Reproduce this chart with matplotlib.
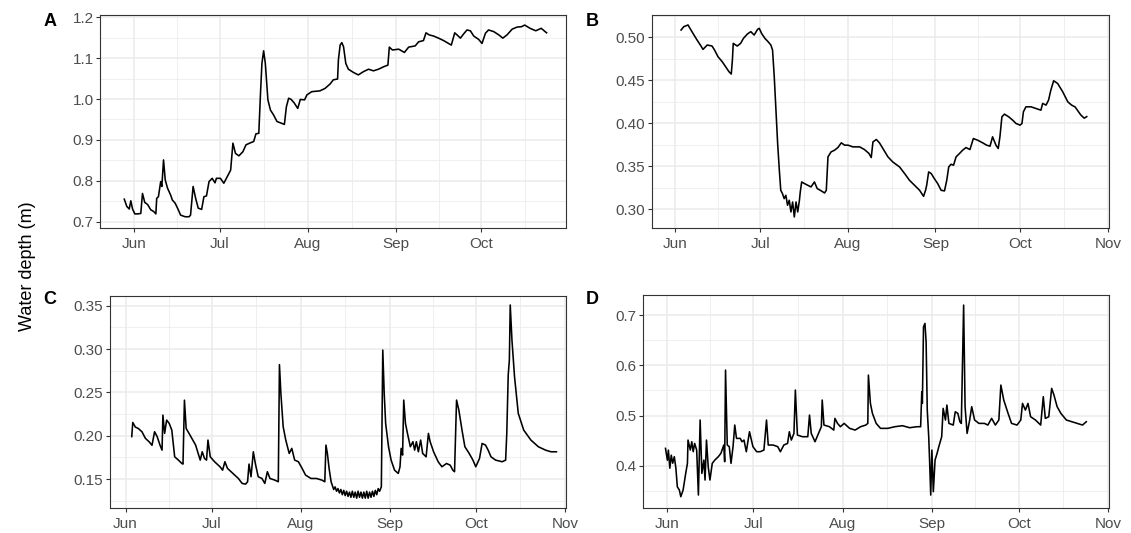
import numpy as np
import pandas as pd
import matplotlib
matplotlib.use('Agg')
import matplotlib.pyplot as plt
import matplotlib.dates as mdates
from matplotlib.ticker import FixedLocator, FormatStrFormatter

plt.rcParams['font.family'] = ['Liberation Sans', 'DejaVu Sans']

START = pd.Timestamp('2021-06-01')

# ---------------- data (days since 1 June, water depth in m) ----------------
a_days = [-3.5, -2.6, -1.75, -1.2, -0.6, 0.2, 1.2, 2.3, 2.9, 3.7, 4.7, 5.8, 6.8, 7.6, 7.9, 8.5, 9.3, 9.7,
          10.3, 10.9, 11.7, 12.8, 13.4, 14.4, 15.5, 16.3, 17.9, 19.3, 19.8, 20.7, 21.6, 22.5, 23.7, 24.5,
          25.4, 26.3, 27.4, 28.4, 28.9, 30.3, 31.5, 32.7, 33.9, 34.7, 35.6, 36.8, 38.2, 39.3, 40.9, 42.0,
          42.8, 43.8, 44.4, 44.9, 45.5, 46.1, 47.0, 47.9, 49.0, 50.2, 51.7, 52.8, 53.5, 54.3, 55.2, 56.3,
          57.5, 58.4, 59.9, 60.7, 62.4, 65.3, 67.1, 68.9, 70.0, 71.5, 71.8, 72.4, 73.0, 73.6, 74.4, 75.3,
          77.1, 78.8, 80.6, 82.4, 84.1, 85.9, 87.7, 89.2, 89.7, 90.8, 93.0, 95.0, 96.5, 98.8, 100.0, 101.7,
          102.6, 103.7, 105.3, 107.0, 108.8, 110.0, 111.5, 112.7, 113.5, 114.7, 115.8, 117.0, 118.2, 119.4,
          121.1, 122.3, 123.5, 124.6, 126.4, 128.2, 129.6, 131.1, 132.9, 134.6, 136.2, 137.3, 139.2, 141.2,
          143.1, 145.0]
a_depth = [0.755, 0.737, 0.731, 0.751, 0.731, 0.719, 0.719, 0.720, 0.769, 0.747, 0.742, 0.729, 0.725, 0.719,
           0.757, 0.761, 0.798, 0.786, 0.851, 0.802, 0.782, 0.765, 0.753, 0.745, 0.729, 0.716, 0.712, 0.712,
           0.716, 0.786, 0.757, 0.733, 0.730, 0.761, 0.763, 0.798, 0.806, 0.795, 0.806, 0.806, 0.794, 0.810,
           0.826, 0.892, 0.867, 0.861, 0.871, 0.888, 0.893, 0.896, 0.915, 0.916, 1.014, 1.087, 1.118, 1.087,
           0.998, 0.973, 0.961, 0.945, 0.941, 0.938, 0.981, 1.002, 0.999, 0.990, 0.977, 0.999, 0.998, 1.010,
           1.018, 1.020, 1.026, 1.037, 1.047, 1.049, 1.096, 1.132, 1.138, 1.128, 1.087, 1.073, 1.065, 1.059,
           1.067, 1.073, 1.069, 1.073, 1.079, 1.083, 1.127, 1.120, 1.122, 1.114, 1.127, 1.130, 1.140, 1.143,
           1.162, 1.157, 1.154, 1.149, 1.143, 1.138, 1.132, 1.162, 1.157, 1.149, 1.159, 1.169, 1.167, 1.154,
           1.146, 1.136, 1.161, 1.169, 1.165, 1.157, 1.149, 1.157, 1.171, 1.176, 1.177, 1.181, 1.173, 1.167,
           1.173, 1.162]

b_days = [2.05, 3.0, 4.5, 5.9, 7.7, 9.1, 9.8, 11.3, 13.0, 13.9, 15.1, 16.6, 17.8, 19.0, 19.8, 20.2, 20.5,
          21.9, 23.1, 24.1, 25.5, 26.7, 27.9, 29.1, 29.7, 30.5, 31.7, 32.8, 33.8, 34.4, 35.0, 35.6, 36.2,
          36.8, 37.3, 37.9, 38.5, 39.1, 39.7, 40.3, 40.9, 41.5, 42.1, 42.7, 43.3, 43.9, 44.2, 44.7, 45.7,
          46.8, 48.0, 49.2, 50.2, 51.3, 52.8, 53.4, 54.0, 55.1, 56.3, 57.5, 58.7, 59.9, 61.1, 62.8, 63.4,
          65.2, 66.9, 68.5, 69.3, 69.9, 71.1, 72.2, 73.4, 75.2, 76.9, 79.3, 81.1, 82.8, 84.6, 86.4, 87.8,
          88.5, 88.9, 89.6, 90.5, 91.6, 92.8, 94.0, 95.2, 96.0, 96.7, 97.5, 98.4, 99.3, 100.5, 101.6, 102.8,
          104.2, 105.4, 106.9, 108.7, 110.1, 111.3, 112.2, 113.4, 114.2, 114.8, 115.5, 116.4, 117.9, 119.3,
          120.5, 121.9, 122.6, 123.1, 124.0, 125.8, 127.5, 129.3, 129.9, 131.1, 132.0, 132.8, 133.8, 135.2,
          137.0, 138.8, 140.1, 141.4, 143.4, 144.6, 145.5]
b_depth = [0.5085, 0.5124, 0.5144, 0.5066, 0.4969, 0.4899, 0.4860, 0.4911, 0.4899, 0.4852, 0.4775, 0.4717,
           0.4658, 0.4600, 0.4573, 0.4736, 0.4930, 0.4899, 0.4930, 0.4988, 0.5039, 0.5066, 0.5027, 0.5093,
           0.5105, 0.5047, 0.4988, 0.4950, 0.4911, 0.4852, 0.4542, 0.4153, 0.3765, 0.3454, 0.3221, 0.3183,
           0.3124, 0.3163, 0.3047, 0.3105, 0.2969, 0.3085, 0.2911, 0.3085, 0.2969, 0.3105, 0.3202, 0.3318,
           0.3299, 0.3280, 0.3260, 0.3318, 0.3241, 0.3221, 0.3190, 0.3221, 0.3610, 0.3668, 0.3687, 0.3718,
           0.3773, 0.3746, 0.3746, 0.3726, 0.3726, 0.3726, 0.3695, 0.3649, 0.3602, 0.3784, 0.3812, 0.3773,
           0.3707, 0.3610, 0.3551, 0.3493, 0.3416, 0.3338, 0.3280, 0.3221, 0.3151, 0.3221, 0.3280, 0.3435,
           0.3416, 0.3357, 0.3299, 0.3221, 0.3214, 0.3338, 0.3493, 0.3524, 0.3513, 0.3610, 0.3649, 0.3687,
           0.3718, 0.3695, 0.3823, 0.3804, 0.3773, 0.3746, 0.3734, 0.3843, 0.3746, 0.3707, 0.3843, 0.4076,
           0.4107, 0.4076, 0.4037, 0.3998, 0.3979, 0.3998, 0.4134, 0.4192, 0.4192, 0.4173, 0.4153, 0.4231,
           0.4212, 0.4270, 0.4386, 0.4495, 0.4464, 0.4367, 0.4250, 0.4213, 0.4190, 0.4097, 0.4060, 0.4078]

c_days = [2.15, 2.5, 3.4, 4.4, 5.7, 6.9, 8.2, 9.2, 10.1, 11.0, 12.0, 12.7, 13.0, 13.6, 14.3, 15.2, 16.1,
          17.1, 18.4, 19.6, 20.0, 20.5, 21.1, 22.1, 23.4, 24.4, 25.3, 26.0, 26.7, 27.5, 28.2, 28.7, 29.5,
          31.0, 32.9, 33.8, 34.6, 35.5, 37.4, 39.3, 40.6, 41.8, 42.5, 43.0, 43.7, 44.5, 45.2, 46.2, 47.5,
          48.5, 49.4, 50.3, 52.0, 53.2, 53.6, 54.1, 54.9, 55.8, 57.0, 57.9, 58.9, 60.2, 61.5, 62.7, 64.6,
          66.5, 68.4, 69.4, 69.8, 70.3, 70.9, 71.6, 72.0, 72.5, 73.0, 73.5, 74.0, 74.5, 75.0, 75.5, 76.0,
          76.5, 77.0, 77.5, 78.0, 78.5, 79.0, 79.5, 80.0, 80.5, 81.0, 81.5, 82.0, 82.5, 83.0, 83.5, 84.0,
          84.5, 85.0, 85.5, 86.0, 86.5, 87.0, 87.5, 88.0, 88.5, 89.1, 89.6, 90.1, 90.6, 91.6, 92.5, 93.7,
          95.0, 95.6, 96.0, 96.5, 96.9, 97.5, 98.2, 99.2, 100.1, 100.7, 101.3, 102.0, 102.8, 103.5, 104.7,
          105.5, 106.1, 107.3, 108.9, 110.2, 111.8, 113.1, 114.0, 114.6, 115.3, 116.1, 117.2, 118.2, 119.7,
          121.0, 122.0, 123.3, 124.2, 125.4, 126.3, 127.3, 128.9, 131.2, 132.4, 132.8, 133.3, 133.7, 134.0,
          134.6, 135.5, 136.8, 138.7, 141.2, 143.8, 146.3, 148.2, 150.1]
c_depth = [0.199, 0.2153, 0.210, 0.2084, 0.2046, 0.197, 0.193, 0.189, 0.2046, 0.199, 0.189, 0.1834, 0.2238,
           0.2027, 0.218, 0.2142, 0.2065, 0.1757, 0.1719, 0.168, 0.1673, 0.241, 0.2084, 0.2027, 0.195, 0.1892,
           0.1796, 0.1719, 0.1815, 0.1738, 0.1719, 0.195, 0.1757, 0.170, 0.1642, 0.1603, 0.170, 0.1623,
           0.1565, 0.1507, 0.145, 0.1442, 0.1469, 0.1673, 0.1527, 0.1815, 0.168, 0.1527, 0.1507, 0.145,
           0.1585, 0.1507, 0.1488, 0.1469, 0.2820, 0.2488, 0.2104, 0.195, 0.1796, 0.1854, 0.1719, 0.170,
           0.1623, 0.1546, 0.1507, 0.1507, 0.1488, 0.1469, 0.1892, 0.1796, 0.1623, 0.1469, 0.143, 0.138,
           0.141, 0.136, 0.139, 0.134, 0.138, 0.132, 0.137, 0.131, 0.136, 0.130, 0.135, 0.129, 0.136, 0.129,
           0.135, 0.128, 0.136, 0.129, 0.135, 0.128, 0.135, 0.128, 0.136, 0.128, 0.135, 0.129, 0.136, 0.130,
           0.137, 0.132, 0.139, 0.136, 0.1411, 0.2988, 0.2488, 0.2142, 0.1873, 0.1719, 0.1603, 0.1565, 0.1642,
           0.1854, 0.1777, 0.2411, 0.2142, 0.2027, 0.1873, 0.1931, 0.1834, 0.1931, 0.1815, 0.195, 0.1796,
           0.1757, 0.2027, 0.1931, 0.1815, 0.170, 0.1642, 0.168, 0.166, 0.1603, 0.1585, 0.2411, 0.2296,
           0.2065, 0.1873, 0.1796, 0.1719, 0.1642, 0.1738, 0.1911, 0.1892, 0.1834, 0.1757, 0.1719, 0.170,
           0.1719, 0.2027, 0.270, 0.2873, 0.3508, 0.3104, 0.268, 0.2258, 0.2065, 0.195, 0.1873, 0.1834,
           0.1815, 0.1815]

d_days = [-0.4, 0.25, 0.6, 1.1, 1.6, 2.1, 2.65, 3.2, 3.7, 4.4, 4.9, 5.7, 6.6, 7.2, 7.4, 8.2, 8.7, 9.2, 9.7,
          10.4, 11.0, 11.6, 12.2, 12.9, 13.3, 13.8, 14.4, 15.0, 15.8, 16.7, 17.9, 18.8, 19.8, 20.1, 20.4,
          21.0, 21.7, 22.3, 23.0, 23.6, 24.2, 25.5, 26.1, 26.8, 27.6, 28.7, 29.9, 31.2, 32.4, 33.7, 34.6,
          35.2, 36.9, 38.5, 39.4, 40.6, 41.9, 42.5, 43.2, 44.1, 44.6, 45.3, 47.0, 48.9, 49.5, 50.1, 51.4,
          52.6, 53.6, 53.9, 54.5, 56.4, 57.9, 58.3, 59.2, 60.2, 61.5, 63.4, 65.3, 67.2, 69.0, 69.7, 69.9,
          70.6, 71.3, 72.6, 74.1, 76.6, 79.1, 81.7, 84.2, 86.7, 88.0, 88.4, 88.6, 89.0, 89.5, 89.9, 90.3,
          90.8, 91.1, 91.5, 91.9, 92.4, 93.0, 93.7, 94.3, 95.3, 95.8, 96.6, 97.1, 97.8, 99.3, 100.0, 100.9,
          101.6, 102.1, 102.9, 103.4, 104.1, 105.0, 105.7, 106.7, 108.2, 110.1, 111.3, 112.6, 113.9, 115.1,
          115.8, 116.8, 118.3, 119.5, 121.4, 122.7, 123.3, 124.3, 125.2, 126.1, 127.8, 129.6, 130.5, 131.2,
          132.4, 133.4, 134.2, 135.3, 136.6, 138.5, 140.4, 142.3, 144.1, 145.4]
d_depth = [0.4345, 0.411, 0.431, 0.395, 0.421, 0.405, 0.418, 0.395, 0.358, 0.3516, 0.3383, 0.3516, 0.3847,
           0.4047, 0.4511, 0.4312, 0.4478, 0.4279, 0.4445, 0.4312, 0.3416, 0.491, 0.3847, 0.4113, 0.3715,
           0.4511, 0.398, 0.3715, 0.4047, 0.4113, 0.418, 0.4246, 0.4412, 0.408, 0.5905, 0.4412, 0.4379,
           0.4047, 0.4379, 0.481, 0.4544, 0.4544, 0.4478, 0.4511, 0.4279, 0.4677, 0.4379, 0.4279, 0.4279,
           0.4312, 0.491, 0.4412, 0.4412, 0.4379, 0.4279, 0.4412, 0.4445, 0.4677, 0.4511, 0.4644, 0.5507,
           0.4611, 0.4578, 0.4578, 0.5009, 0.4644, 0.4478, 0.4644, 0.4777, 0.5308, 0.481, 0.4777, 0.471,
           0.4943, 0.4843, 0.4777, 0.4843, 0.4744, 0.471, 0.4777, 0.481, 0.4843, 0.5805, 0.5241, 0.5042,
           0.4843, 0.4744, 0.4744, 0.4777, 0.4797, 0.4757, 0.4777, 0.4777, 0.5474, 0.5241, 0.6768, 0.6834,
           0.6469, 0.5108, 0.4578, 0.4113, 0.3416, 0.4312, 0.3483, 0.4113, 0.4246, 0.4379, 0.4578, 0.5142,
           0.491, 0.5208, 0.4843, 0.481, 0.5075, 0.5042, 0.4876, 0.4843, 0.7199, 0.5175, 0.4644, 0.491,
           0.5175, 0.491, 0.4843, 0.4843, 0.481, 0.4943, 0.481, 0.491, 0.5606, 0.5308, 0.5042, 0.4843, 0.481,
           0.491, 0.5241, 0.5108, 0.5241, 0.4976, 0.491, 0.481, 0.5374, 0.4943, 0.4976, 0.554, 0.5407, 0.5175,
           0.5042, 0.491, 0.4876, 0.4843, 0.481, 0.4876]

y_label = 'Water depth (m)'
panel_letters = ['A', 'B', 'C', 'D']

# ---------------- figure ----------------
W, H = 1131, 533
fig = plt.figure(figsize=(W / 100, H / 100), dpi=100)


def to_dates(days):
    return START + pd.to_timedelta(np.asarray(days, float), unit='D')


month_starts = pd.date_range('2021-04-01', '2021-12-01', freq='MS')
mid_months = [month_starts[i] + (month_starts[i + 1] - month_starts[i]) / 2 for i in range(len(month_starts) - 1)]


def make_panel(box, xlim_days, ylim, yticks, yfmt, days, vals, letter, letter_xy):
    l, r, t, b = box
    ax = fig.add_axes([l / W, 1 - b / H, (r - l) / W, (b - t) / H])
    ax.plot(to_dates(days), vals, color='black', lw=1.15, solid_joinstyle='round')
    ax.set_xlim(to_dates(xlim_days))
    ax.set_ylim(*ylim)
    ax.xaxis.set_major_locator(mdates.MonthLocator(bymonthday=1))
    ax.xaxis.set_major_formatter(mdates.DateFormatter('%b'))
    ax.xaxis.set_minor_locator(FixedLocator(mdates.date2num(mid_months)))
    ax.set_yticks(yticks)
    step = yticks[1] - yticks[0]
    ax.yaxis.set_minor_locator(FixedLocator(np.arange(yticks[0] - step * 2.5, yticks[-1] + step * 2, step)))
    ax.yaxis.set_major_formatter(FormatStrFormatter(yfmt))
    ax.set_axisbelow(True)
    ax.grid(which='major', color='#EBEBEB', lw=1.1)
    ax.grid(which='minor', color='#EBEBEB', lw=0.55)
    for s in ax.spines.values():
        s.set_color('#333333')
        s.set_linewidth(0.8)
    ax.tick_params(which='major', length=2.6, width=0.8, color='#333333', labelcolor='#4D4D4D',
                   labelsize=11, pad=2.2)
    ax.tick_params(axis='x', which='major', pad=4)
    ax.tick_params(which='minor', length=0)
    fig.text(letter_xy[0] / W, 1 - letter_xy[1] / H, letter, fontsize=13, fontweight='bold',
             ha='center', va='center', color='black')
    return ax


make_panel((100.4, 566.2, 15, 227.7), (-11.9, 151.9), (0.6852, 1.2056),
           [0.7, 0.8, 0.9, 1.0, 1.1, 1.2], '%.1f', a_days, a_depth, panel_letters[0], (50, 21))
make_panel((651.8, 1108.8, 15, 227.7), (-8.3, 153.3), (0.2786, 0.526),
           [0.30, 0.35, 0.40, 0.45, 0.50], '%.2f', b_days, b_depth, panel_letters[1], (592, 21))
make_panel((109.8, 566.2, 295.7, 507.7), (-5.5, 153.5), (0.117, 0.3615),
           [0.15, 0.20, 0.25, 0.30, 0.35], '%.2f', c_days, c_depth, panel_letters[2], (50, 300))
make_panel((642.7, 1108.8, 295, 507.7), (-8.3, 153.2), (0.3164, 0.740),
           [0.4, 0.5, 0.6, 0.7], '%.1f', d_days, d_depth, panel_letters[3], (592, 300))

fig.text(28 / W, 0.5, y_label, rotation=90, ha='center', va='center', fontsize=13, color='black')

fig.savefig('out.png', dpi=100)
